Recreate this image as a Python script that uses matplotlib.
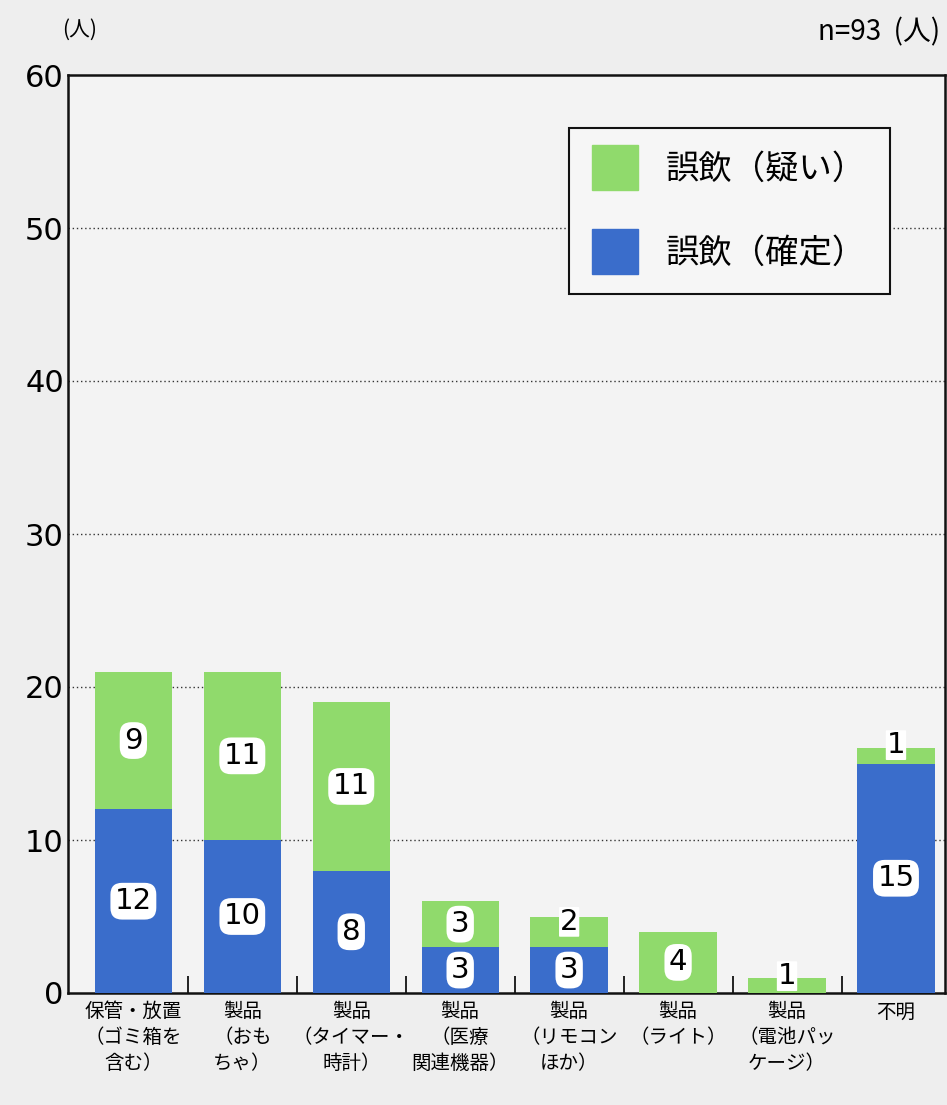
import matplotlib
matplotlib.use("Agg")
import matplotlib.pyplot as plt
from matplotlib.patches import Patch

plt.rcParams['font.family'] = ['Noto Sans CJK JP', 'DejaVu Sans']

categories = [
    "保管・放置\n（ゴミ箱を\n含む）",
    "製品\n（おも\nちゃ）",
    "製品\n（タイマー・\n時計）",
    "製品\n（医療\n関連機器）",
    "製品\n（リモコン\nほか）",
    "製品\n（ライト）",
    "製品\n（電池パッ\nケージ）",
    "不明",
]
confirmed = [12, 10, 8, 3, 3, 0, 0, 15]
suspected = [9, 11, 11, 3, 2, 4, 1, 1]
yticks = [0, 10, 20, 30, 40, 50, 60]

GREEN = '#90da6c'
BLUE = '#3a6dcb'
BG = '#eeeeee'

fig = plt.figure(figsize=(9.47, 11.05), dpi=100, facecolor=BG)
ax = fig.add_axes([68/947, 1 - 993/1105, (945-68)/947, (993-75)/1105])
ax.set_facecolor('#f3f3f3')

x = list(range(len(categories)))
w = 0.71
ax.bar(x, confirmed, width=w, color=BLUE, zorder=3)
ax.bar(x, suspected, width=w, bottom=confirmed, color=GREEN, zorder=3)

FS = 21
box = dict(boxstyle='round,pad=0.15,rounding_size=0.4', fc='white', ec='none')
for i in x:
    c, s = confirmed[i], suspected[i]
    if c > 0:
        ax.text(i, c / 2, str(c), ha='center', va='center', fontsize=FS,
                family='DejaVu Sans', bbox=box, zorder=5)
    if s > 0:
        if s <= 2 and c > 0:
            ypos = c + s - 0.35 if s == 2 else c + s + 0.2
            ax.text(i, ypos, str(s), ha='center', va='center', fontsize=FS,
                    family='DejaVu Sans',
                    bbox=dict(boxstyle='round,pad=0.03', fc='white', ec='none'), zorder=5)
        elif s == 1:
            ax.text(i, c + s / 2 + 0.6, str(s), ha='center', va='center', fontsize=FS,
                    family='DejaVu Sans',
                    bbox=dict(boxstyle='round,pad=0.03', fc='white', ec='none'), zorder=5)
        else:
            ax.text(i, c + s / 2, str(s), ha='center', va='center', fontsize=FS,
                    family='DejaVu Sans', bbox=box, zorder=5)

ax.set_ylim(0, 60)
ax.set_xlim(-0.6, 7.45)
ax.set_yticks(yticks)
ax.set_yticklabels([str(v) for v in yticks], fontsize=22, family='DejaVu Sans')
ax.tick_params(axis='y', length=0, pad=3)
for v in yticks[1:-1]:
    ax.axhline(v, color='#333333', linestyle=(0, (1, 2)), linewidth=1.0, zorder=1)

ax.set_xticks(x)
ax.set_xticklabels(categories, fontsize=14, linespacing=1.3)
ax.tick_params(axis='x', length=0, pad=6)
ax.set_xticks([i + 0.5 for i in range(len(categories) - 1)], minor=True)
ax.tick_params(axis='x', which='minor', direction='in', length=12, width=1.4, color='#222222')

for sp in ['left', 'top', 'bottom', 'right']:
    ax.spines[sp].set_color('#111111')
    ax.spines[sp].set_linewidth(1.8)

handles = [Patch(color=GREEN, label='誤飲（疑い）'), Patch(color=BLUE, label='誤飲（確定）')]
leg = ax.legend(handles=handles, loc='upper right', bbox_to_anchor=(0.937, 0.942),
                fontsize=24, frameon=True, fancybox=False, handlelength=1.36,
                handleheight=1.1, handletextpad=0.85, borderpad=0.7, labelspacing=1.45,
                borderaxespad=0, edgecolor='#111111', facecolor='#f6f6f6', framealpha=1)
leg.get_frame().set_linewidth(1.5)
new_h = 45 * 72 / 100
for h in leg.legend_handles:
    oy, oh = h.get_y(), h.get_height()
    h.set_height(new_h)
    h.set_y(oy + oh / 2 - new_h / 2)

fig.text(62/947, 1 - 30/1105, '(人)', fontsize=15, ha='left', va='center')
fig.text(940/947, 1 - 32/1105, 'n=93  (人)', fontsize=20, ha='right', va='center')

fig.savefig('out.png', dpi=100, facecolor=BG)
